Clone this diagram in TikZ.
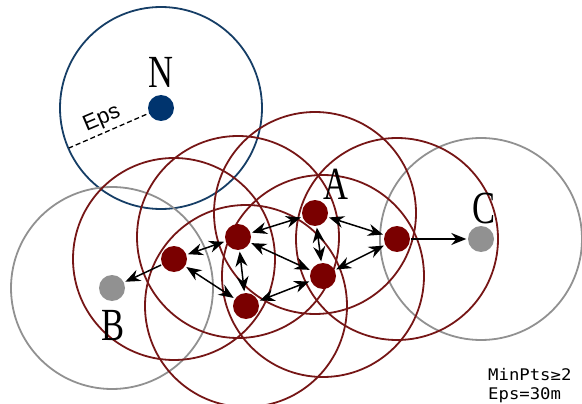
\documentclass[tikz,border=0pt]{standalone}
\usepackage{fontspec}
\newfontfamily\letterfont{Liberation Serif}
\newfontfamily\epsfont{Liberation Sans}
\newfontfamily\notefont{DejaVu Sans Mono}
\usetikzlibrary{arrows.meta}
\definecolor{corered}{RGB}{122,0,0}
\definecolor{ringred}{RGB}{118,22,22}
\definecolor{noiseblue}{RGB}{0,52,110}
\definecolor{ringblue}{RGB}{22,62,102}
\definecolor{bordergray}{RGB}{145,145,145}

\begin{document}
\begin{tikzpicture}[x=1pt,y=-1pt,
  dot/.style={circle,minimum size=26pt,inner sep=0pt},
  ring/.style={line width=1.8pt},
  link/.style={{Stealth[length=15pt,width=12pt]}-{Stealth[length=15pt,width=12pt]},line width=1.5pt,shorten <=1.5pt,shorten >=1.5pt},
  oneway/.style={-{Stealth[length=15pt,width=12pt]},line width=1.5pt,shorten <=1pt,shorten >=1.5pt},
  letter/.style={font=\letterfont\fontsize{46}{46}\selectfont,xscale=.75,inner sep=0pt},
  note/.style={font=\notefont\fontsize{16}{16}\selectfont,xscale=1.08,anchor=base west,inner sep=0pt}]
  \useasboundingbox (0,0) rectangle (582,404);
  % points
  \coordinate (n) at (161,108); \coordinate (b) at (112,288); \coordinate (c) at (481,239);
  \coordinate (p1) at (174,259); \coordinate (p2) at (238,237); \coordinate (p3) at (315,213);
  \coordinate (p4) at (397,239); \coordinate (p5) at (323,276); \coordinate (p6) at (246,306);
  \coordinate (epsend) at (69,148);
  % eps neighbourhoods
  \draw[ring,ringblue] (n) circle[radius=101pt];
  \draw[ring,bordergray] (b) circle[radius=101pt];
  \draw[ring,bordergray] (c) circle[radius=101pt];
  \foreach \p in {p1,p2,p3,p4,p5,p6}
    \draw[ring,ringred] (\p) circle[radius=101pt];
  \draw[line width=1.3pt,dash pattern=on 5pt off 3pt] (n)--(epsend);
  \node[font=\epsfont\fontsize{22}{22}\selectfont,rotate=23,inner sep=0pt] (epslabel) at (102,119) {Eps};
  % dots
  \node[dot,fill=noiseblue] (nd) at (n) {};
  \node[dot,fill=bordergray] (bd) at (b) {};
  \node[dot,fill=bordergray] (cd) at (c) {};
  \foreach \p in {p1,p2,p3,p4,p5,p6}
    \node[dot,fill=corered] (\p d) at (\p) {};
  % reachability
  \draw[link] (p1d)--(p2d); \draw[link] (p1d)--(p6d); \draw[link] (p2d)--(p3d);
  \draw[link] (p2d)--(p6d); \draw[link] (p2d)--(p5d); \draw[link] (p3d)--(p5d);
  \draw[link] (p3d)--(p4d); \draw[link] (p4d)--(p5d); \draw[link] (p6d)--(p5d);
  \draw[oneway] (p1d)--(bd); \draw[oneway] (p4d)--(cd);
  % labels
  \node[letter] (nlabel) at (161,72) {N};
  \node[letter] (alabel) at (336,184) {A};
  \node[letter] (blabel) at (113,326) {B};
  \node[letter] (clabel) at (484,208) {C};
  \node[note] (minpts) at (488,380) {MinPts≥2};
  \node[note] (epsval) at (488,399) {Eps=30m};
\end{tikzpicture}
\end{document}
